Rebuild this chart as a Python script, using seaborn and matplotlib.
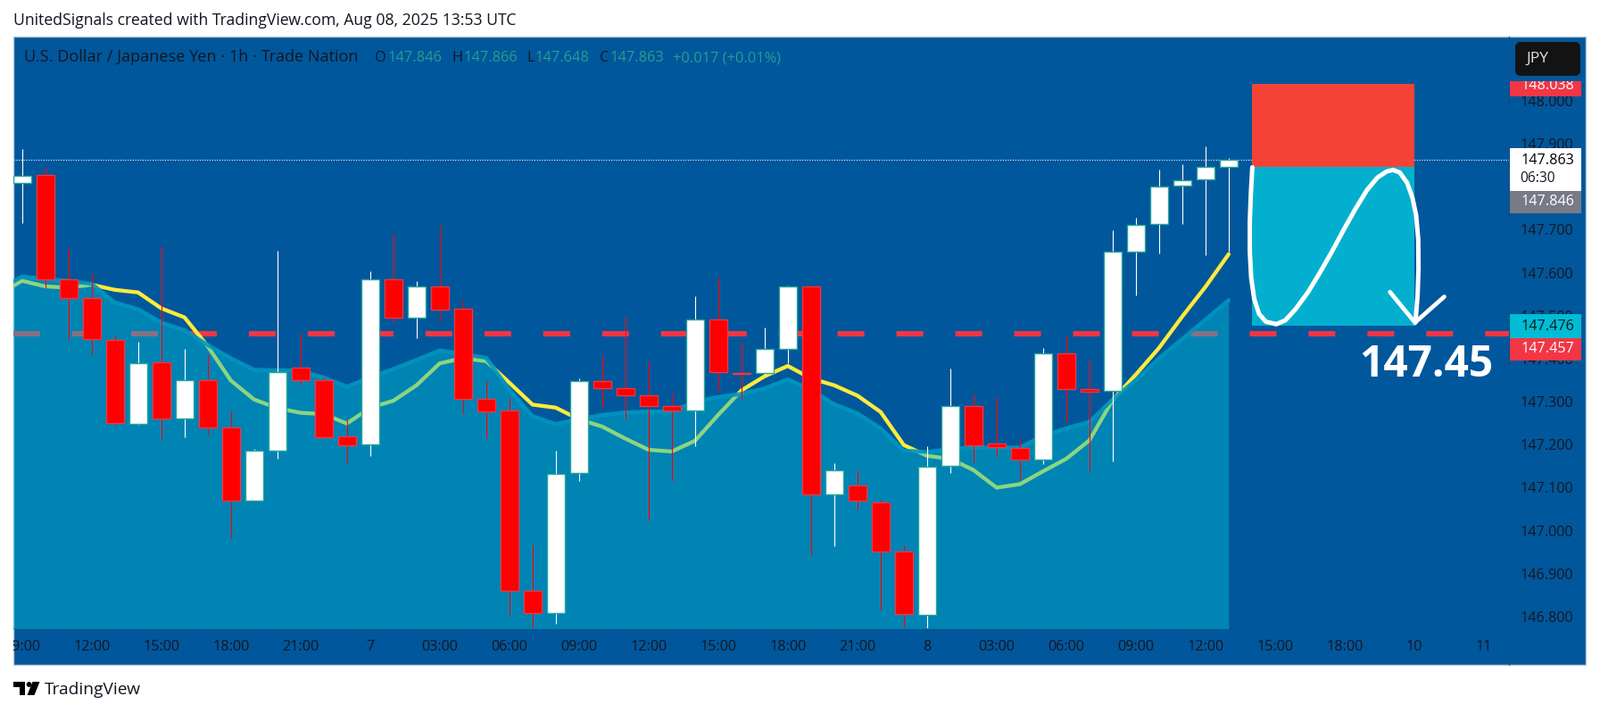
import matplotlib
matplotlib.use("Agg")
import matplotlib.pyplot as plt
from matplotlib.patches import Rectangle, FancyBboxPatch, Polygon, Circle
from matplotlib.transforms import Bbox, TransformedBbox
import numpy as np
import pandas as pd
import seaborn as sns

FONT = "Open Sans"
sns.set_theme(style="white", rc={"font.family": FONT, "lines.scale_dashes": False})

# ---- data -----------------------------------------------------------------
opens = [147.808,147.827,147.585,147.540,147.443,147.248,147.392,147.260,147.349,147.241,
         147.069,147.186,147.380,147.350,147.219,147.200,147.585,147.495,147.567,147.515,
         147.306,147.279,146.860,146.808,147.134,147.347,147.331,147.314,147.289,147.279,
         147.492,147.367,147.366,147.423,147.567,147.084,147.105,147.065,146.951,146.804,
         147.150,147.289,147.202,147.193,147.165,147.413,147.329,147.325,147.648,147.713,
         147.802,147.817,147.846]
highs = [147.888,147.844,147.657,147.599,147.456,147.439,147.662,147.423,147.411,147.280,
         147.190,147.651,147.460,147.356,147.257,147.603,147.691,147.581,147.712,147.537,
         147.348,147.309,146.966,147.186,147.354,147.408,147.498,147.394,147.321,147.545,
         147.589,147.439,147.473,147.570,147.569,147.157,147.140,147.072,146.965,147.197,
         147.376,147.318,147.311,147.213,147.425,147.454,147.398,147.699,147.728,147.840,
         147.853,147.894,147.866]
lows = [147.716,147.564,147.444,147.411,147.244,147.246,147.212,147.217,147.223,146.982,
        147.069,147.167,147.340,147.217,147.157,147.174,147.484,147.448,147.484,147.271,
        147.215,146.804,146.760,146.783,147.116,147.285,147.259,147.025,147.115,147.197,
        147.326,147.307,147.363,147.390,146.944,146.963,147.049,146.817,146.760,146.760,
        147.134,147.159,147.172,147.117,147.154,147.252,147.139,147.162,147.548,147.645,
        147.714,147.641,147.648]
closes = [147.825,147.585,147.540,147.446,147.250,147.390,147.260,147.349,147.241,147.069,
          147.185,147.369,147.350,147.217,147.199,147.585,147.495,147.567,147.514,147.306,
          147.278,146.860,146.808,147.133,147.347,147.331,147.314,147.289,147.279,147.492,
          147.368,147.365,147.423,147.567,147.084,147.141,147.069,146.951,146.806,147.149,
          147.289,147.199,147.194,147.165,147.413,147.329,147.324,147.648,147.712,147.800,
          147.815,147.845,147.863]
# moving averages, first value sits one bar before the first candle
fast_ma = [147.550,147.581,147.568,147.565,147.572,147.560,147.554,147.517,147.496,147.429,147.349,
           147.305,147.285,147.274,147.271,147.249,147.286,147.302,147.338,147.389,147.401,
           147.394,147.344,147.293,147.286,147.259,147.242,147.214,147.188,147.184,147.209,
           147.269,147.326,147.359,147.383,147.354,147.338,147.314,147.276,147.199,147.174,
           147.167,147.141,147.100,147.108,147.138,147.167,147.210,147.304,147.363,147.425,
           147.498,147.567,147.643]
slow_ma = [147.560,147.591,147.585,147.581,147.574,147.531,147.515,147.484,147.466,147.432,147.401,
           147.374,147.373,147.372,147.356,147.335,147.356,147.376,147.397,147.419,147.411,
           147.402,147.328,147.266,147.248,147.259,147.269,147.275,147.277,147.277,147.300,
           147.311,147.318,147.331,147.352,147.328,147.294,147.273,147.238,147.186,147.183,
           147.190,147.193,147.193,147.193,147.221,147.238,147.253,147.305,147.350,147.401,
           147.446,147.491,147.536]
# hand-drawn projection (bar position, price)
sketch_bar = [53.02,52.96,52.91,52.91,52.97,53.10,53.31,53.60,54.05,54.44,54.88,55.40,55.91,56.42,
              56.94,57.45,57.96,58.41,58.80,59.08,59.37,59.69,59.92,60.08,60.17,60.18,60.14,60.05]
sketch_price = [147.845,147.788,147.719,147.650,147.588,147.539,147.504,147.486,147.480,147.489,
                147.515,147.553,147.598,147.646,147.698,147.747,147.792,147.821,147.835,147.839,
                147.833,147.809,147.774,147.733,147.677,147.608,147.546,147.484]
arrow_bar = [58.95,60.03,61.29]
arrow_price = [147.555,147.484,147.544]
# position tool
entry_price, stop_price, target_price = 147.846, 148.038, 147.476
tool_start_bar, tool_end_bar = 53, 60
horizontal_level = 147.457
last_price = 147.863
target_text = "147.45"

price_ticks = [146.8,146.9,147.0,147.1,147.2,147.3,147.4,147.5,147.6,147.7,147.9,148.0]
time_tick_bars = [0,3,6,9,12,15,18,21,24,27,30,33,36,39,42,45,48,51,54,57,60,63]
time_tick_labels = ["09:00","12:00","15:00","18:00","21:00","7","03:00","06:00","09:00","12:00",
                    "15:00","18:00","21:00","8","03:00","06:00","09:00","12:00","15:00","18:00","10","11"]
price_tags = [("148.038","#F23645","white",91,108,95.5),
              ("147.846","#787B86","white",214,239,226.5),
              ("147.476","#00BCD4","#131722",352,379,365.5),
              ("147.457","#F23645","white",379,403.5,391)]

df = pd.DataFrame({"bar": np.arange(len(opens)), "o": opens, "h": highs, "l": lows, "c": closes})
ma = pd.DataFrame({"bar": np.arange(len(fast_ma)) - 1, "fast": fast_ma, "slow": slow_ma})

# ---- figure ---------------------------------------------------------------
W, H = 1793, 799
BG = "#01579B"
INK = "#131722"
fig = plt.figure(figsize=(W / 100, H / 100), dpi=100, facecolor="white")

def px_axes(l, t, r, b, z):
    return fig.add_axes([l / W, 1 - b / H, (r - l) / W, (b - t) / H], zorder=z)

under = fig.add_axes([0, 0, 1, 1], zorder=0)
under.set_xlim(0, W); under.set_ylim(H, 0); under.axis("off")
under.add_patch(Rectangle((15, 41), 1762, 704, fc=BG, ec="#B4C7D8", lw=1))

ax = px_axes(15, 41, 1691, 704, 1)
ax.patch.set_alpha(0)
ax.set_xlim(-0.373, 64.08)
ax.set_ylim(146.773, 148.149)

# level and MAs under the translucent area
ax.axhline(horizontal_level, color="#F23645", lw=4.3, linestyle=(0, (21.6, 25.9)), zorder=2)
ax.axhline(last_price, color="white", lw=0.8, linestyle=(0, (0.8, 1.2)), zorder=2)
sns.lineplot(data=ma, x="bar", y="fast", ax=ax, color="#FFEB3B", lw=3.1, zorder=3, estimator=None, legend=False)
ax.fill_between(ma["bar"], ma["slow"], 146.0, color="#00BCD4", alpha=0.45, lw=0, zorder=4)
sns.lineplot(data=ma, x="bar", y="slow", ax=ax, color="#0096C0", lw=3.2, alpha=0.9, zorder=5, estimator=None, legend=False)

# candles
up = df["c"] >= df["o"]
for mask, fill, edge, wick in [(up, "white", "#26A69A", "white"), (~up, "#FF0000", "#F23645", "#FF0000")]:
    d = df[mask]
    ax.vlines(d["bar"], d["l"], d["h"], color=wick, lw=0.8, zorder=6)
    ax.bar(d["bar"], (d["c"] - d["o"]).abs(), bottom=d[["o", "c"]].min(axis=1), width=0.77,
           color=fill, edgecolor=edge, linewidth=1.0, zorder=7)

# position tool and sketch
ax.add_patch(Rectangle((tool_start_bar, entry_price), tool_end_bar - tool_start_bar, stop_price - entry_price,
                       fc="#F44336", lw=0, zorder=8))
ax.add_patch(Rectangle((tool_start_bar, target_price), tool_end_bar - tool_start_bar, entry_price - target_price,
                       fc="#03AFCE", lw=0, zorder=8))
sns.lineplot(x=sketch_bar, y=sketch_price, ax=ax, color="white", lw=3.6, sort=False, estimator=None,
             zorder=9, legend=False, solid_capstyle="round", solid_joinstyle="round")
sns.lineplot(x=arrow_bar, y=arrow_price, ax=ax, color="white", lw=3.4, sort=False, estimator=None,
             zorder=9, legend=False, solid_capstyle="round", solid_joinstyle="miter")

# axes ticks
ax.set_xlabel(""); ax.set_ylabel("")
ax.yaxis.tick_right()
ax.set_yticks(price_ticks, [f"{v:.3f}" for v in price_ticks])
ax.set_xticks(time_tick_bars, time_tick_labels)
ax.tick_params(axis="y", length=0, pad=9, labelsize=11.6, labelcolor=INK, right=True)
ax.tick_params(axis="x", length=0, pad=9.2, labelsize=11.6, labelcolor=INK)
for sp in ["top", "left"]:
    ax.spines[sp].set_visible(False)
for sp in ["bottom", "right"]:
    ax.spines[sp].set_color("#0B4E88"); ax.spines[sp].set_linewidth(0.8)

# overlay for legend text, price tags, logo
ov = fig.add_axes([0, 0, 1, 1], zorder=3)
ov.set_xlim(0, W); ov.set_ylim(H, 0); ov.axis("off"); ov.patch.set_alpha(0)

def clip(t, x0, y0, x1, y1):
    t.set_clip_on(True)
    t.set_clip_box(TransformedBbox(Bbox([[x0, y0], [x1, y1]]), ov.transData))

for lab in ax.get_xticklabels():
    lab.set_clip_on(True)
    lab.set_clip_box(TransformedBbox(Bbox([[15, 0], [W, H]]), ov.transData))

ov.plot([1691, 1691], [704, 745], color="#0B4E88", lw=0.8)

ov.text(15, 28.5, "UnitedSignals created with TradingView.com, Aug 08, 2025 13:53 UTC",
        fontsize=12.7, color=INK, va="baseline", ha="left")

GREEN = "#2A9D8F"
ov.text(27, 69, "U.S. Dollar / Japanese Yen · 1h · Trade Nation", fontsize=13.1, color=INK, va="baseline")
for x, s, c in [(420, "O", INK), (434, "147.846", GREEN), (506, "H", INK), (519, "147.866", GREEN),
                (590, "L", INK), (599, "147.648", GREEN), (672, "C", INK), (683, "147.863", GREEN),
                (754, "+0.017 (+0.01%)", GREEN)]:
    ov.text(x, 69, s, fontsize=11.8, color=c, va="baseline")

ov.add_patch(FancyBboxPatch((1701, 50), 67, 32, boxstyle="round,pad=0,rounding_size=3", fc="#131313", ec="#131313", lw=6 * 0.72))
ov.text(1710, 65.5, "JPY", color="#E0E0E0", fontsize=12.6, va="center")

for s, fc, tc, y0, y1, yt in price_tags:
    ov.add_patch(Rectangle((1692, y0), 80, y1 - y0, fc=fc, lw=0))
    t = ov.text(1734.5, yt, s, color=tc, fontsize=11.6, ha="center", va="center")
    clip(t, 1692, y0, 1772, y1)

ov.add_patch(Rectangle((1692, 166), 80, 48, fc="white", lw=0))
ov.text(1734.5, 180, f"{last_price:.3f}", color="#000000", fontsize=11.6, ha="center", va="center")
ov.text(1703.5, 200.5, "06:30", color=INK, fontsize=11.2, ha="left", va="center")

ov.text(1598, 422.3, target_text, color="white", fontsize=34.5, ha="center", va="baseline", fontweight="bold")

# TradingView mark
ov.add_patch(Polygon([(15, 764), (28, 764), (28, 779), (21.5, 779), (21.5, 770), (15, 770)], fc="#000000", lw=0))
ov.add_patch(Circle((32.5, 767), 2.9, fc="#000000", lw=0))
ov.add_patch(Polygon([(36.5, 764), (44.5, 764), (38.5, 779), (30.5, 779)], fc="#000000", lw=0))
ov.text(50, 778.5, "TradingView", color=INK, fontsize=13.8, va="baseline")

fig.savefig("out.png", dpi=100, facecolor="white")
